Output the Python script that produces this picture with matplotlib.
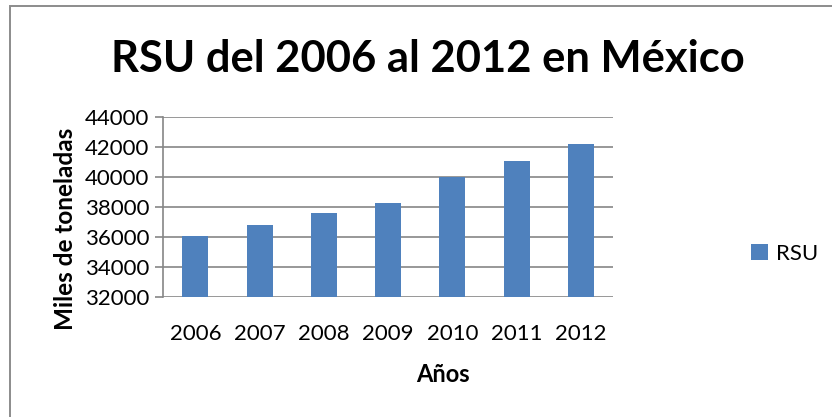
import matplotlib
matplotlib.use("Agg")
import matplotlib.pyplot as plt
from matplotlib.patches import Rectangle

years  = ["2006", "2007", "2008", "2009", "2010", "2011", "2012"]
rsu    = [36100, 36820, 37580, 38280, 40010, 41030, 42160]
yticks = [32000, 34000, 36000, 38000, 40000, 42000, 44000]

BAR   = "#4F81BD"
GRID  = "#868686"
TEXT  = "#000000"

plt.rcParams.update({
    "font.family": ["Lato", "DejaVu Sans"],
})

W, H = 832, 417
fig = plt.figure(figsize=(W / 100, H / 100), dpi=100)
fig.patch.set_facecolor("white")

# outer chart border (only top and left fall inside the crop)
fig.patches.append(Rectangle((9.5 / W, -0.05), 1.1, 1 - 5.5 / H + 0.05,
                             transform=fig.transFigure, fill=False,
                             edgecolor="#8c8c8c", linewidth=1.4))

ax = fig.add_axes([163.3 / W, 1 - 297.3 / H, (613 - 163.3) / W, (297.3 - 116.7) / H])

x = range(len(years))
ax.bar(x, rsu, width=0.405, color=BAR, label="RSU", zorder=3)

ax.set_ylim(32000, 44000)
ax.set_yticks(yticks)
ax.set_xlim(-0.5, len(years) - 0.5)
ax.set_xticks(list(x))
ax.set_xticklabels(years)

ax.grid(axis="y", color=GRID, linewidth=1.2, zorder=0)
for s in ["top", "right", "bottom"]:
    ax.spines[s].set_visible(False)
ax.spines["left"].set_color(GRID)
ax.spines["left"].set_linewidth(1.2)
ax.tick_params(axis="y", length=6, width=1.2, color=GRID, labelsize=16, pad=4)
ax.tick_params(axis="x", length=0, labelsize=16, pad=19)

ax.set_xlabel("Años", fontsize=17, fontweight="bold", labelpad=14)
ax.set_ylabel("Miles de toneladas", fontsize=17.5, fontweight="bold", labelpad=6)
# Excel placed the axis titles off-centre
ax.xaxis.label.set_x(0.622)
ax.yaxis.label.set_y(0.378)

fig.text(427.5 / W, 1 - 72 / H, "RSU del 2006 al 2012 en México",
         ha="center", va="baseline", fontsize=31.3, fontweight="bold", color=TEXT)

ax.legend(loc="center left", bbox_to_anchor=(740 / W, 1 - 254 / H),
          bbox_transform=fig.transFigure, frameon=False, borderpad=0,
          fontsize=16, handlelength=0.75, handleheight=0.75, handletextpad=0.35)

fig.savefig("out.png", dpi=100, facecolor="white")
